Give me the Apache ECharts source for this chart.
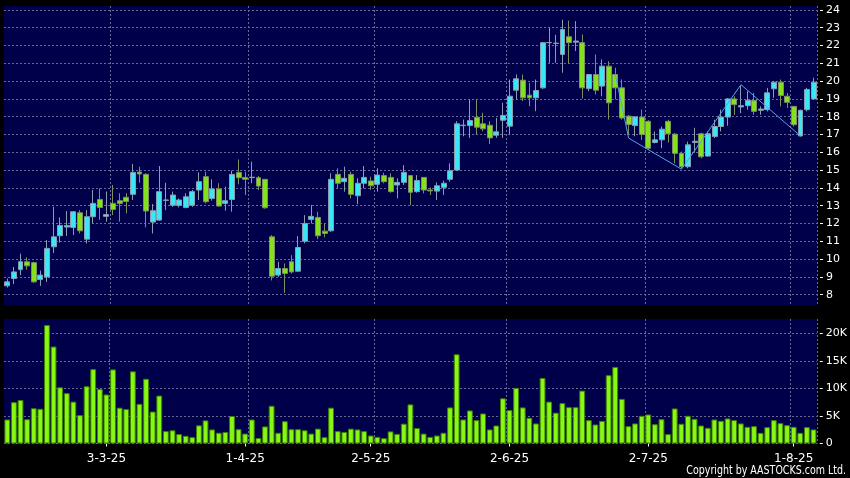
<!DOCTYPE html>
<html>
<head>
<meta charset="utf-8">
<script src="https://cdn.jsdelivr.net/npm/echarts@6.0.0/dist/echarts.min.js"></script>
<style>
html,body{margin:0;padding:0;background:#000;}
#c{width:850px;height:478px;}
</style>
</head>
<body>
<div id="c"></div>
<script>
// ---- data ----
const opens = [8.5,8.91,9.41,9.85,9.8,8.85,9.0,10.69,11.31,11.8,
11.78,12.6,11.12,12.38,13.35,12.4,13.13,13.28,13.47,13.64,
14.89,14.76,12.08,12.19,13.3,13.02,13.02,12.9,13.02,13.88,
14.63,13.41,13.94,13.13,13.35,14.87,14.59,14.58,14.57,14.48,
11.25,9.1,9.47,9.85,9.32,11.0,12.23,12.34,11.57,11.59,
14.76,14.35,14.76,13.56,14.26,14.39,14.2,14.69,14.59,14.16,
14.31,14.69,13.79,14.59,13.88,13.82,14.03,14.48,15.0,17.5,
17.5,17.97,17.6,17.52,16.96,17.8,17.47,19.49,20.05,19.21,
19.06,19.62,22.16,22.12,21.5,22.49,22.19,22.16,19.58,20.37,
19.72,20.84,20.37,19.62,18.03,17.5,17.98,17.74,16.55,16.7,
17.74,17.02,15.94,15.19,16.55,17.04,15.79,16.89,17.45,17.98,
19.0,18.55,18.62,18.92,18.36,18.4,19.57,19.94,19.15,18.58,
16.92,18.4,19.0];
const closes = [8.72,9.28,9.85,9.62,8.72,9.1,10.6,11.25,11.89,11.88,
12.66,11.59,12.38,13.13,12.9,12.5,12.79,13.13,13.24,14.87,
14.78,12.7,12.72,13.79,13.32,13.6,13.32,13.5,13.79,14.35,
13.22,13.94,12.98,13.28,14.76,14.57,14.48,14.6,14.1,12.88,
9.04,9.47,9.19,9.28,10.65,12.0,12.4,11.31,11.44,14.48,
14.26,14.54,13.64,14.26,14.59,14.12,14.72,14.35,13.79,14.31,
14.87,13.75,14.41,13.88,13.83,14.12,14.26,14.97,17.6,17.52,
17.78,17.41,17.32,16.81,17.15,18.07,19.15,20.13,19.06,19.06,
19.47,22.16,22.17,22.13,22.9,22.16,22.25,19.62,20.37,19.49,
20.84,18.78,19.62,17.93,17.56,17.99,17.0,16.23,16.7,17.3,
17.04,15.94,15.19,16.42,16.62,15.75,17.04,17.45,17.98,19.0,
18.68,18.62,18.92,18.3,18.43,19.34,19.94,19.19,18.81,17.55,
18.36,19.53,19.94];
const lows = [8.4,8.6,9.1,9.4,8.66,8.5,8.72,10.35,10.93,11.3,
11.35,11.44,10.88,12.0,12.2,12.1,12.47,12.1,12.57,13.32,
14.29,11.78,11.44,12.15,12.75,12.94,12.9,12.85,12.94,13.32,
13.13,13.28,12.94,12.72,12.66,14.2,13.6,14.26,13.88,12.83,
8.8,9.0,8.1,9.19,9.3,10.88,12.0,11.12,11.22,11.53,
13.97,13.79,13.41,13.09,13.97,13.88,13.79,14.26,13.73,13.41,
14.16,13.04,13.73,13.69,13.6,13.32,13.6,14.35,14.95,16.9,
16.81,17.0,17.18,16.47,16.81,16.81,17.0,18.97,18.87,18.59,
18.31,19.55,21.03,21.03,20.47,21.0,21.69,19.02,19.43,19.25,
19.15,17.84,18.97,17.84,17.0,16.9,16.7,16.13,16.5,16.23,
16.55,15.38,15.1,15.1,15.98,15.66,15.75,16.8,17.17,17.49,
18.1,18.2,18.4,18.11,18.11,18.3,19.06,18.58,18.49,17.45,
16.89,18.3,18.96];
const highs = [8.9,9.56,10.3,10.1,9.85,9.35,11.07,12.94,12.34,12.7,
12.7,12.75,12.75,13.88,13.97,13.8,14.16,13.7,13.7,15.34,
15.19,14.82,13.09,15.23,14.29,13.79,13.41,13.7,13.88,14.87,
14.91,14.48,14.26,14.07,14.97,15.6,14.91,15.47,14.67,14.5,
11.35,9.85,9.75,10.22,11.29,12.47,13.04,12.66,12.0,14.82,
15.1,15.19,14.91,14.54,15.23,14.63,15.1,14.85,14.82,14.54,
15.28,14.72,14.72,14.6,14.03,14.31,14.41,15.38,17.75,17.84,
18.97,18.97,18.22,17.75,17.93,18.78,20.09,20.37,20.37,19.9,
20.09,22.2,23.0,22.6,23.45,23.4,23.37,22.62,20.4,21.5,
21.22,21.12,20.75,20.09,18.1,18.03,18.4,17.8,17.17,17.45,
17.83,17.08,16.04,16.6,17.38,17.1,17.17,17.83,18.4,19.05,
19.15,19.72,19.43,19.34,18.58,19.62,20.0,20.09,19.34,18.6,
18.4,19.62,20.19];
// volume in thousands
const volumes = [4.36,7.5,7.9,4.4,6.4,6.3,21.5,17.6,10.2,9.15,
7.6,5.15,10.4,13.5,9.9,8.9,13.45,6.5,6.25,13.1,
7.2,11.75,5.8,8.7,2.25,2.4,1.7,1.4,1.15,3.3,
4.2,2.55,1.95,2.1,5.0,2.6,1.8,4.36,1.0,3.1,
6.85,1.95,4.05,2.6,2.6,2.4,1.8,2.7,1.15,6.5,
2.25,2.1,2.7,2.55,2.25,1.45,1.2,0.97,2.2,1.75,
3.6,7.1,2.8,1.8,1.2,1.45,1.95,6.55,16.2,4.36,
6.0,4.24,5.45,2.55,3.27,8.2,6.06,10.1,6.55,4.67,
3.64,11.9,7.6,5.6,7.33,6.6,6.6,9.6,4.24,3.45,
4.1,12.4,13.9,8.1,3.15,3.64,5.03,5.27,3.5,4.42,
1.7,6.36,3.58,5.03,4.48,3.27,2.85,4.36,4.12,4.55,
4.24,3.64,3.03,3.15,1.94,2.97,4.24,3.7,3.33,3.03,
1.94,2.97,2.55];
// zigzag overlay pivots (category index, price)
const zigIndex = [92, 94, 102, 111, 120];
const zigValue = [20.35, 16.8, 15.05, 19.8, 16.92];
// date tick labels and where they sit
const tickLabels = ['3-3-25','1-4-25','2-5-25','2-6-25','2-7-25','1-8-25'];
const tickIndex = [15, 36, 55, 76, 97, 119];
const gridLineIndex = [16, 37, 56, 76, 97, 119];
const priceTicks = [8,9,10,11,12,13,14,15,16,17,18,19,20,21,22,23,24];
const volumeTicks = [0,5,10,15,20];

// ---- build ----
const categories = opens.map((_, i) => {
  const k = tickIndex.indexOf(i);
  return k >= 0 ? tickLabels[k] : 'd' + i;
});
const ohlc = opens.map((o, i) => [o, closes[i], lows[i], highs[i]]);
const zig = zigIndex.map((x, i) => [x, zigValue[i]]);

const NAVY = '#00004a';
const GRIDC = '#6a6a98';
const FONT = 'DejaVu Sans';

const chart = echarts.init(document.getElementById('c'), null, {renderer: 'canvas'});
const splitX = {
  show: true,
  interval: (i) => gridLineIndex.indexOf(i) >= 0,
  lineStyle: {color: GRIDC, type: [2, 2], width: 1}
};
const splitY = {show: true, lineStyle: {color: GRIDC, type: [2, 2], width: 1}};

chart.setOption({
  backgroundColor: '#000000',
  animation: false,
  grid: [
    {left: 4, right: 33, top: 6, height: 299, show: true, backgroundColor: NAVY, borderWidth: 0},
    {left: 4, right: 33, top: 319, height: 124.5, show: true, backgroundColor: NAVY, borderWidth: 0}
  ],
  xAxis: [
    {type: 'category', gridIndex: 0, data: categories, boundaryGap: true,
     axisLine: {show: false}, axisTick: {show: false}, axisLabel: {show: false},
     splitLine: splitX},
    {type: 'category', gridIndex: 1, data: categories, boundaryGap: true, offset: 3,
     axisLine: {show: false},
     axisTick: {show: true, alignWithLabel: true, length: 3,
                interval: (i) => tickIndex.indexOf(i) >= 0,
                lineStyle: {color: '#ffffff', width: 1}},
     axisLabel: {show: true, interval: (i) => tickIndex.indexOf(i) >= 0,
                 formatter: (v) => tickLabels.indexOf(v) >= 0 ? v : '',
                 color: '#ffffff', fontSize: 12, fontFamily: FONT, margin: 6},
     splitLine: splitX}
  ],
  yAxis: [
    {type: 'value', gridIndex: 0, position: 'right', min: 7.42, max: 24.22, offset: 3,
     axisLine: {show: false},
     axisTick: {show: true, length: 3, customValues: priceTicks, lineStyle: {color: '#ffffff'}},
     axisLabel: {show: true, customValues: priceTicks, color: '#ffffff', fontSize: 11,
                 fontFamily: FONT, margin: 6},
     splitLine: splitY},
    {type: 'value', gridIndex: 1, position: 'right', min: 0, max: 22.6, offset: 3,
     axisLine: {show: false},
     axisTick: {show: true, length: 3, customValues: volumeTicks, lineStyle: {color: '#ffffff'}},
     axisLabel: {show: true, customValues: volumeTicks, color: '#ffffff', fontSize: 11,
                 fontFamily: FONT, margin: 6,
                 formatter: (v) => v === 0 ? '0' : v + 'K'},
     splitLine: splitY}
  ],
  series: [
    {type: 'candlestick', xAxisIndex: 0, yAxisIndex: 0, data: ohlc, barWidth: '82%',
     itemStyle: {color: '#38e8f4', color0: '#84e21c', borderColor: '#8a9cb0',
                 borderColor0: '#7d9060', borderWidth: 1}},
    {type: 'line', xAxisIndex: 0, yAxisIndex: 0, data: zig, showSymbol: false, z: 5,
     lineStyle: {color: '#4ea6ee', width: 1}},
    {type: 'bar', xAxisIndex: 1, yAxisIndex: 1, data: volumes, barWidth: '88%',
     itemStyle: {color: '#86f814', borderColor: '#3f7f00', borderWidth: 1}}
  ],
  graphic: [
    {type: 'text', x: 846, y: 471, scaleX: 0.79,
     style: {text: 'Copyright by AASTOCKS.com Ltd.', fill: '#ffffff', fontSize: 12,
             fontFamily: FONT, align: 'right', verticalAlign: 'middle'}}
  ]
});
</script>
</body>
</html>
